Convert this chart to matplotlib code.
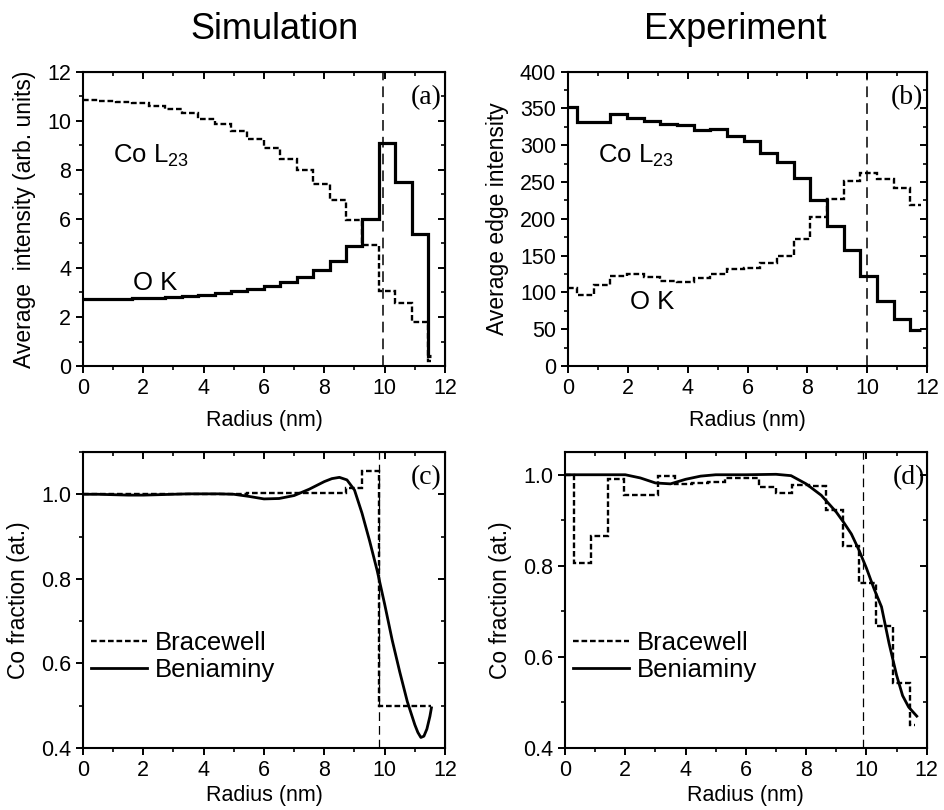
import numpy as np
import matplotlib.pyplot as plt
from matplotlib.ticker import MultipleLocator, NullFormatter

plt.rcParams['font.family'] = ['Liberation Sans', 'DejaVu Sans']
plt.rcParams['mathtext.default'] = 'regular'

# simulation: radial bins (nm) shared by panels (a) and (c)
sim_edges = [0, 0.545, 1.09, 1.635, 2.18, 2.725, 3.27, 3.815, 4.36, 4.905, 5.45,
             5.995, 6.54, 7.085, 7.63, 8.175, 8.72, 9.265, 9.81, 10.355, 10.9,
             11.445, 11.55]
sim_co = [10.84, 10.80, 10.76, 10.72, 10.62, 10.48, 10.30, 10.08, 9.85, 9.57, 9.25,
          8.88, 8.46, 8.00, 7.42, 6.76, 5.94, 4.92, 3.05, 2.56, 1.80, 0.20]
sim_o = [2.72, 2.73, 2.74, 2.76, 2.78, 2.81, 2.85, 2.90, 2.96, 3.04, 3.13,
         3.25, 3.42, 3.62, 3.90, 4.30, 4.90, 6.00, 9.10, 7.50, 5.40, 0.40]
sim_bracewell = [1.0, 1.0, 1.0, 1.0, 1.0, 1.0, 1.0, 1.0, 1.0, 1.0, 1.003,
                 1.003, 1.003, 1.003, 1.003, 1.003, 1.015, 1.055, 0.5, 0.5, 0.5, 0.5]
sim_ben_r = [0, 0.5, 1, 1.5, 2, 2.5, 3, 3.5, 4, 4.5, 5, 5.5, 6, 6.5, 7, 7.5, 8,
             8.25, 8.5, 8.75, 9, 9.25, 9.5, 9.75, 10, 10.25, 10.5, 10.75, 11,
             11.1, 11.2, 11.3, 11.4, 11.5, 11.55]
sim_ben = [1.0, 1.0, 0.999, 0.998, 0.998, 0.999, 1.0, 1.001, 1.001, 1.001, 1.0,
           0.995, 0.989, 0.99, 0.997, 1.012, 1.03, 1.037, 1.04, 1.034, 1.01,
           0.955, 0.89, 0.82, 0.74, 0.655, 0.58, 0.51, 0.455, 0.437, 0.425,
           0.428, 0.445, 0.475, 0.495]

# experiment: radial bins (nm) for panels (b) and (d)
exp_edges = [0, 0.3, 0.857, 1.414, 1.971, 2.528, 3.085, 3.642, 4.199, 4.756, 5.313,
             5.87, 6.427, 6.984, 7.541, 8.098, 8.655, 9.212, 9.769, 10.326, 10.883,
             11.44, 11.8]
exp_edges_d = exp_edges[:-1] + [11.6]
exp_co = [352, 332, 332, 342, 337, 333, 329, 328, 321, 322, 313, 306, 289, 277,
          255.5, 226, 190, 157.5, 123, 88, 63.5, 49]
exp_o = [106, 96, 109.6, 122, 125, 121, 116, 114.5, 120, 124.5, 132, 133.5, 139.4,
         149.3, 172, 202.6, 227.5, 251, 262, 254.6, 242, 218.4]
exp_bracewell = [1.0, 0.806, 0.866, 0.991, 0.955, 0.955, 0.997, 0.979, 0.981, 0.984,
                 0.993, 0.993, 0.974, 0.959, 0.978, 0.975, 0.922, 0.843, 0.762,
                 0.667, 0.542, 0.45]
exp_ben_r = [0, 1, 2, 2.5, 3, 3.5, 4, 4.5, 5, 6, 7, 7.5, 8, 8.5, 9, 9.25, 9.5,
             9.75, 10, 10.25, 10.5, 10.75, 11, 11.2, 11.4, 11.67]
exp_ben = [1.0, 1.0, 1.0, 0.993, 0.982, 0.98, 0.99, 0.997, 1.0, 1.0, 1.001, 0.998,
           0.98, 0.955, 0.918, 0.895, 0.87, 0.835, 0.795, 0.75, 0.71, 0.63, 0.56,
           0.515, 0.49, 0.47]

interface_r = {'a': 9.95, 'b': 10.0, 'c': 9.82, 'd': 9.9}

SOLID_LW = 2.3
DASH_LW = 1.7
DASH = (0, (2.4, 1.2))
VLINE = (0, (7, 4))


def style_axes(ax, ylim, ymajor, yminor, ylabel, letter, letter_x, xpad=8):
    ax.set_xlim(0, 12)
    ax.set_ylim(*ylim)
    ax.xaxis.set_major_locator(MultipleLocator(2))
    ax.xaxis.set_minor_locator(MultipleLocator(1))
    ax.yaxis.set_major_locator(MultipleLocator(ymajor))
    ax.yaxis.set_minor_locator(MultipleLocator(yminor))
    ax.tick_params(which='major', direction='out', length=5, width=1.4, labelsize=15.5)
    ax.tick_params(which='minor', direction='out', length=3, width=1.2)
    for s in ax.spines.values():
        s.set_linewidth(1.5)
    top = ax.secondary_xaxis('top')
    top.xaxis.set_major_locator(MultipleLocator(2))
    top.xaxis.set_minor_locator(MultipleLocator(1))
    top.xaxis.set_major_formatter(NullFormatter())
    top.tick_params(which='major', direction='in', length=5, width=1.4)
    top.tick_params(which='minor', direction='in', length=3, width=1.2)
    right = ax.secondary_yaxis('right')
    right.yaxis.set_major_locator(MultipleLocator(ymajor))
    right.yaxis.set_minor_locator(MultipleLocator(yminor))
    right.yaxis.set_major_formatter(NullFormatter())
    right.tick_params(which='major', direction='in', length=5, width=1.4)
    right.tick_params(which='minor', direction='in', length=3, width=1.2)
    ax.set_xlabel('Radius (nm)', fontsize=15.5, labelpad=xpad)
    ax.set_ylabel(ylabel, fontsize=16.5, labelpad=8)
    ax.text(letter_x, 0.955, letter, transform=ax.transAxes, ha='right', va='top',
            fontsize=20, family='Liberation Serif')


fig = plt.figure(figsize=(9.44, 8.10), dpi=100)
ax_a = fig.add_axes([0.0879, 0.5481, 0.3835, 0.3634])
ax_b = fig.add_axes([0.6017, 0.5481, 0.3803, 0.3634])
ax_c = fig.add_axes([0.0879, 0.0765, 0.3835, 0.3655])
ax_d = fig.add_axes([0.5985, 0.0765, 0.3832, 0.3655])

fig.text(0.291, 0.952, 'Simulation', ha='center', va='baseline', fontsize=26)
fig.text(0.779, 0.952, 'Experiment', ha='center', va='baseline', fontsize=26)

# (a)
ax_a.stairs(sim_co, sim_edges, baseline=None, color='black', lw=DASH_LW, linestyle=DASH)
ax_a.stairs(sim_o, sim_edges, baseline=None, color='black', lw=SOLID_LW)
ax_a.axvline(interface_r['a'], color='black', lw=1.1, linestyle=VLINE)
ax_a.text(1.0, 8.3, 'Co L$_{23}$', fontsize=18.5, va='baseline')
ax_a.text(1.65, 3.1, 'O K', fontsize=18.5, va='baseline')
style_axes(ax_a, (0, 12), 2, 1, 'Average  intensity (arb. units)', '(a)', 0.99)

# (b)
ax_b.stairs(exp_co, exp_edges, baseline=None, color='black', lw=SOLID_LW)
ax_b.stairs(exp_o, exp_edges, baseline=None, color='black', lw=DASH_LW, linestyle=DASH)
ax_b.axvline(interface_r['b'], color='black', lw=1.1, linestyle=VLINE)
ax_b.text(1.0, 276, 'Co L$_{23}$', fontsize=18.5, va='baseline')
ax_b.text(2.06, 77, 'O K', fontsize=18.5, va='baseline')
style_axes(ax_b, (0, 400), 50, 25, 'Average edge intensity', '(b)', 0.99)

# (c)
ax_c.stairs(sim_bracewell, sim_edges, baseline=None, color='black', lw=DASH_LW,
            linestyle=DASH, label='Bracewell')
ax_c.plot(sim_ben_r, sim_ben, color='black', lw=2.0, label='Beniaminy')
ax_c.axvline(interface_r['c'], color='black', lw=0.9, linestyle=VLINE)
style_axes(ax_c, (0.4, 1.1), 0.2, 0.1, 'Co fraction (at.)', '(c)', 0.99, xpad=3)
ax_c.yaxis.set_major_formatter(lambda v, p: f'{v:.1f}')

# (d)
ax_d.stairs(exp_bracewell, exp_edges_d, baseline=None, color='black', lw=DASH_LW,
            linestyle=DASH, label='Bracewell')
ax_d.plot(exp_ben_r, exp_ben, color='black', lw=2.0, label='Beniaminy')
ax_d.axvline(interface_r['d'], color='black', lw=0.9, linestyle=VLINE)
style_axes(ax_d, (0.4, 1.05), 0.2, 0.1, 'Co fraction (at.)', '(d)', 0.995, xpad=3)
ax_d.yaxis.set_major_formatter(lambda v, p: f'{v:.1f}')

for ax in (ax_c, ax_d):
    ax.legend(loc='center left', bbox_to_anchor=(0.0, 0.31), frameon=False,
              fontsize=18.5, handlelength=2.2, handletextpad=0.3, labelspacing=0.1,
              borderaxespad=0.0, borderpad=0.3)

fig.savefig('out.png', dpi=100)
